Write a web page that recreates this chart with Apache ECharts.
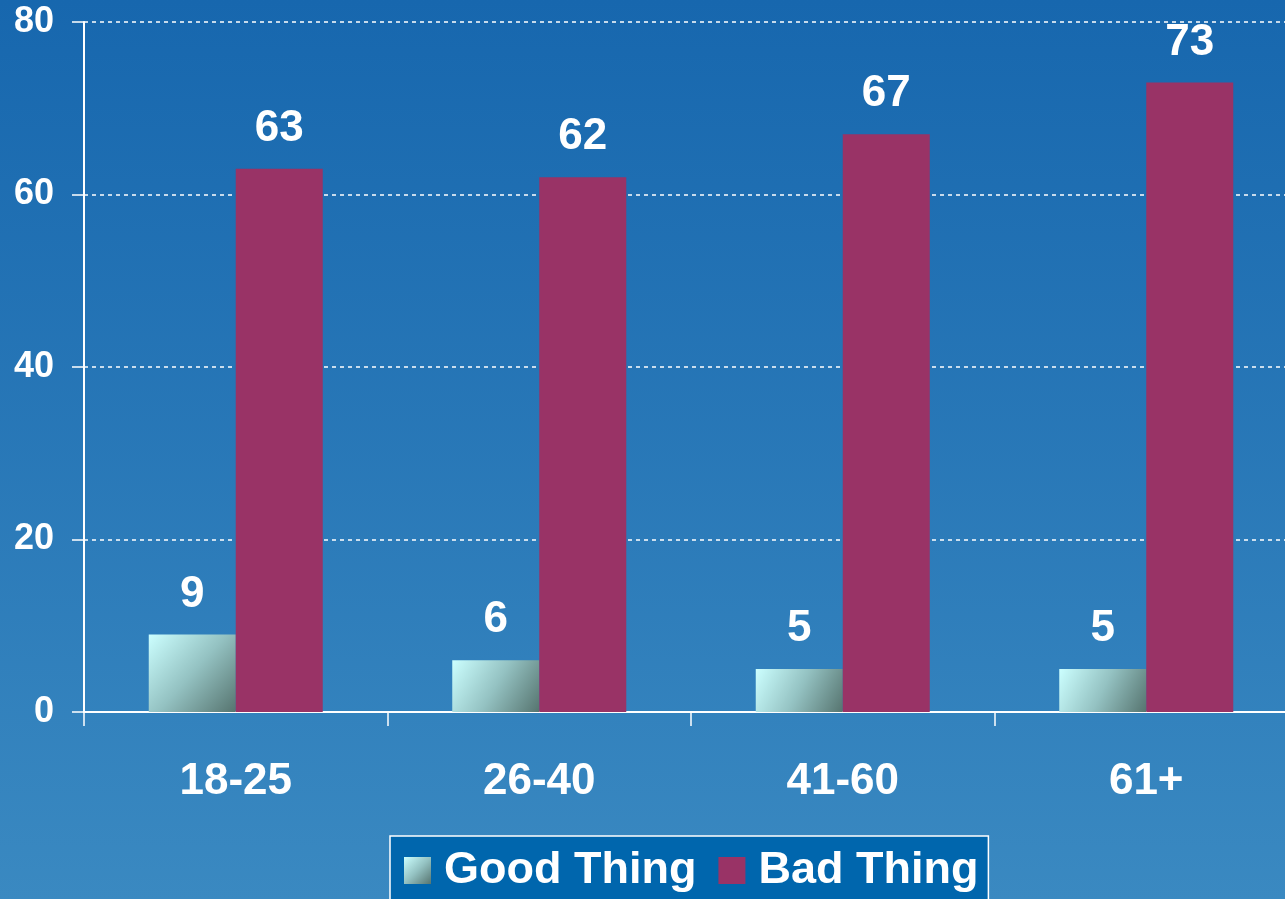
<!DOCTYPE html>
<html>
<head>
<meta charset="utf-8">
<script src="https://cdn.jsdelivr.net/npm/echarts@6/dist/echarts.min.js"></script>
<style>
    html, body { margin: 0; padding: 0; }
    #chart { width: 1285px; height: 899px; }
</style>
</head>
<body>
<div id="chart"></div>
<script>
// chart data
var categories = ['18-25', '26-40', '41-60', '61+'];
var good_thing = [9, 6, 5, 5];
var bad_thing = [63, 62, 67, 73];
var y_ticks = [0, 20, 40, 60, 80];

var chart = echarts.init(document.getElementById('chart'));

var label_style = {
    show: true,
    position: 'top',
    distance: 18,
    color: '#ffffff',
    fontFamily: 'Liberation Sans, Arial, sans-serif',
    fontWeight: 'bold',
    fontSize: 44
};

var option = {
    backgroundColor: {
        type: 'linear', x: 0, y: 0, x2: 0, y2: 1,
        colorStops: [
            { offset: 0, color: '#1767ae' },
            { offset: 1, color: '#3a89c1' }
        ]
    },
    animation: false,
    grid: { left: 84, top: 22, width: 1214, height: 690, outerBoundsMode: 'none', containLabel: false },
    legend: {
        left: 390,
        top: 836,
        padding: [12, 10, 20, 14],
        backgroundColor: '#0066ad',
        borderColor: '#ffffff',
        borderWidth: 1.5,
        borderRadius: 0,
        itemWidth: 27,
        itemHeight: 27,
        itemGap: 22,
        icon: 'rect',
        textStyle: {
            color: '#ffffff',
            fontFamily: 'Liberation Sans, Arial, sans-serif',
            fontWeight: 'bold',
            fontSize: 45,
            padding: [0, 0, 0, 8]
        },
        data: ['Good Thing', 'Bad Thing']
    },
    xAxis: {
        type: 'category',
        data: categories,
        axisLine: { lineStyle: { color: '#ffffff', width: 2 } },
        axisTick: { show: true, alignWithLabel: false, length: 14, lineStyle: { color: '#ffffff', width: 1.5 } },
        axisLabel: {
            margin: 48,
            color: '#ffffff',
            fontFamily: 'Liberation Sans, Arial, sans-serif',
            fontWeight: 'bold',
            fontSize: 44
        }
    },
    yAxis: {
        type: 'value',
        min: y_ticks[0],
        max: y_ticks[y_ticks.length - 1],
        interval: 20,
        axisLine: { show: true, lineStyle: { color: '#ffffff', width: 2 } },
        axisTick: { show: true, length: 12, lineStyle: { color: '#ffffff', width: 1.5 } },
        axisLabel: {
            margin: 30,
            color: '#ffffff',
            fontFamily: 'Liberation Sans, Arial, sans-serif',
            fontWeight: 'bold',
            fontSize: 36
        },
        splitLine: { lineStyle: { color: '#ffffff', type: [4, 4], width: 1.5 } }
    },
    series: [
        {
            name: 'Good Thing',
            type: 'bar',
            data: good_thing,
            barWidth: 87,
            barGap: '0%',
            itemStyle: {
                color: {
                    type: 'linear', x: 0, y: 0, x2: 1, y2: 1,
                    colorStops: [
                        { offset: 0, color: '#ccffff' },
                        { offset: 0.5, color: '#94c2c2' },
                        { offset: 1, color: '#56746f' }
                    ]
                }
            },
            label: label_style
        },
        {
            name: 'Bad Thing',
            type: 'bar',
            data: bad_thing,
            barWidth: 87,
            itemStyle: { color: '#993366' },
            label: label_style
        }
    ]
};

chart.setOption(option);
</script>
</body>
</html>
